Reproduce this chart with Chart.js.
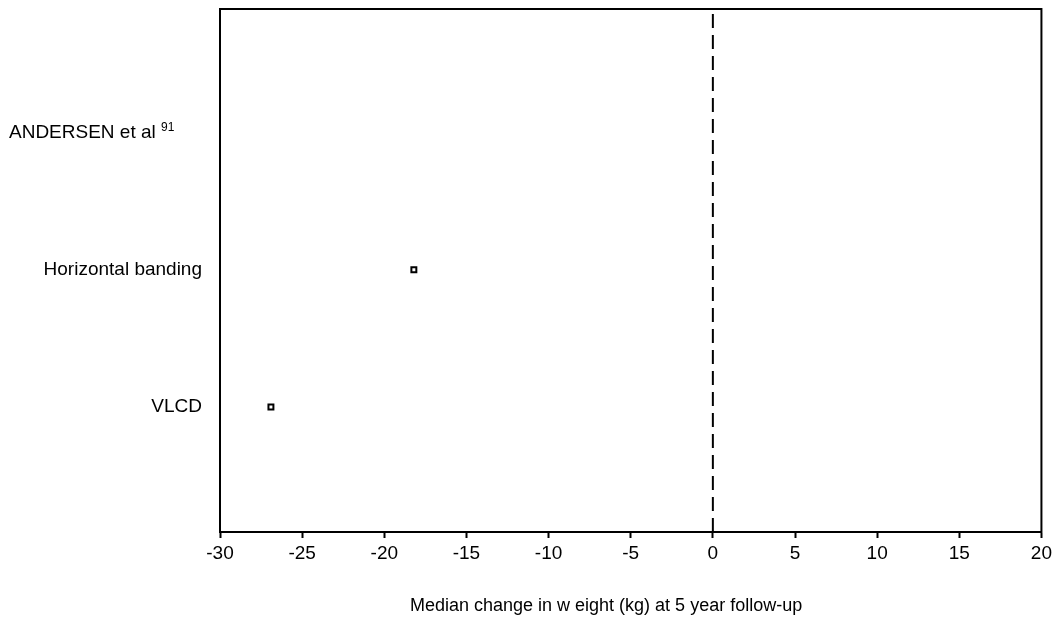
<!DOCTYPE html>
<html>
<head>
<meta charset="utf-8">
<script src="https://cdn.jsdelivr.net/npm/chart.js@4"></script>
<style>
  html, body { margin: 0; padding: 0; background: #fff; }
  #wrap { width: 1056px; height: 622px; }
</style>
</head>
<body>
<div id="wrap"><canvas id="forest"></canvas></div>
<script>
// rows, top to bottom
var rowLabels = ['ANDERSEN et al', 'Horizontal banding', 'VLCD'];
var rowSup = ['91', '', ''];
var rowPos = [3, 2, 1];
var medianChange = [null, -18.2, -26.9];
var xTicks = [-30, -25, -20, -15, -10, -5, 0, 5, 10, 15, 20];
var xTitle = 'Median change in w eight (kg) at 5 year follow-up';

var FONT = '"Liberation Sans", Arial, sans-serif';

var points = [];
for (var i = 0; i < rowLabels.length; i++) {
    if (medianChange[i] !== null) points.push({x: medianChange[i], y: rowPos[i]});
}

// box round the plot, heading row label with superscript, x title (sits left of centre in the original)
var boxPlugin = {
    id: 'box',
    afterDraw: function(chart) {
        var c = chart.ctx, a = chart.chartArea, y = chart.scales.y;
        c.save();
        c.strokeStyle = '#000';
        c.lineWidth = 2;
        c.strokeRect(a.left, a.top, a.right - a.left, a.bottom - a.top);
        c.fillStyle = '#000';
        c.textBaseline = 'middle';
        for (var i = 0; i < rowLabels.length; i++) {
            if (!rowSup[i]) continue;
            var py = y.getPixelForValue(rowPos[i]);
            c.font = '19px ' + FONT;
            c.textAlign = 'left';
            c.fillText(rowLabels[i], 9, py);
            var w = c.measureText(rowLabels[i] + ' ').width;
            c.font = '12px ' + FONT;
            c.fillText(rowSup[i], 9 + w, py - 5);
        }
        c.font = '18px ' + FONT;
        c.textAlign = 'center';
        c.fillText(xTitle, chart.scales.x.getPixelForValue(-6.5), 606);
        c.restore();
    }
};

var ctx = document.getElementById('forest').getContext('2d');
new Chart(ctx, {
    type: 'scatter',
    data: {
        datasets: [
            {
                data: points,
                pointStyle: 'rect',
                pointRadius: 3.5,
                pointBorderWidth: 2,
                pointBorderColor: '#000',
                pointBackgroundColor: '#fff'
            },
            {
                type: 'line',
                data: [{x: 0, y: 0.09}, {x: 0, y: 3.9}],
                borderColor: '#000',
                borderWidth: 2,
                borderDash: [14, 7],
                pointRadius: 0
            }
        ]
    },
    options: {
        responsive: true,
        maintainAspectRatio: false,
        animation: false,
        layout: { padding: { top: 9, right: 14, left: 0, bottom: 0 } },
        plugins: { legend: { display: false }, tooltip: { enabled: false } },
        scales: {
            x: {
                type: 'linear',
                min: -30, max: 20,
                afterBuildTicks: function(s) { s.ticks = xTicks.map(function(v) { return {value: v}; }); },
                afterFit: function(s) { s.height = 90; },
                grid: { display: true, drawOnChartArea: false, tickLength: 6, tickWidth: 2, tickColor: '#000' },
                border: { color: '#000', width: 2 },
                ticks: { color: '#000', font: { family: FONT, size: 19 }, padding: 4, maxRotation: 0 },
                title: { display: false }
            },
            y: {
                type: 'linear',
                min: 0.09, max: 3.9,
                afterBuildTicks: function(s) { s.ticks = rowPos.map(function(v) { return {value: v}; }); },
                afterFit: function(s) { s.width = 220; s.paddingTop = 0; s.paddingBottom = 0; },
                grid: { display: false },
                border: { color: '#000', width: 2 },
                ticks: {
                    color: '#000',
                    font: { family: FONT, size: 19 },
                    padding: 10,
                    callback: function(v) {
                        var i = rowPos.indexOf(v);
                        return (i < 0 || rowSup[i]) ? '' : rowLabels[i];
                    }
                }
            }
        }
    },
    plugins: [boxPlugin]
});
</script>
</body>
</html>
